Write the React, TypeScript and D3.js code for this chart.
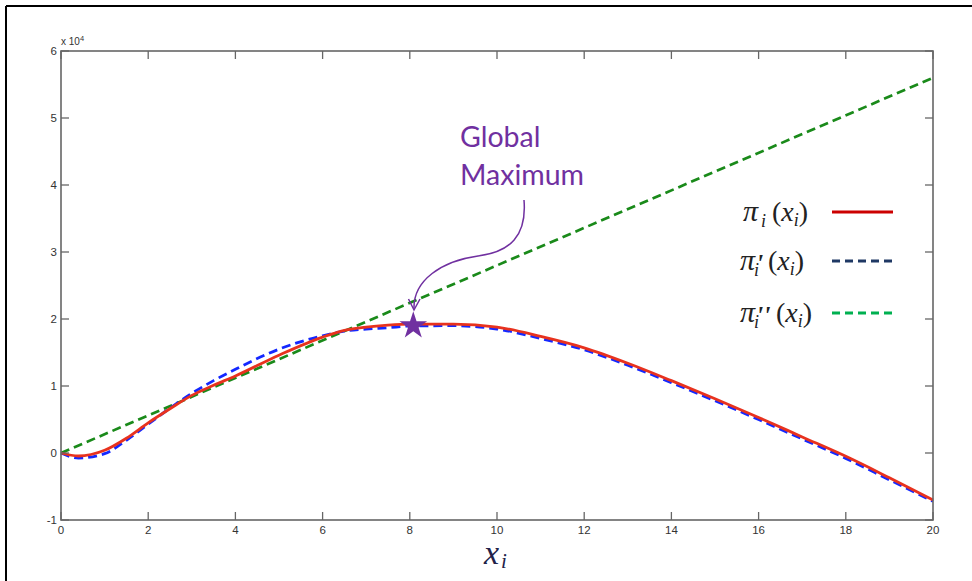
import React from 'react';
import * as d3 from 'd3';

// values in units of 10^4
const xValues = [0, 0.4, 1, 1.5, 2, 2.5, 3, 3.5, 4, 5, 6, 6.5, 7, 7.5, 8, 9, 10, 11, 12, 13, 14, 15, 16, 17, 18, 19, 20];
const piValues = [0, -0.045, 0.04, 0.22, 0.45, 0.66, 0.86, 1.01, 1.15, 1.46, 1.73, 1.83, 1.88, 1.91, 1.925, 1.925, 1.88, 1.74, 1.57, 1.34, 1.08, 0.81, 0.53, 0.24, -0.05, -0.37, -0.7];
const piPrimeValues = [0, -0.075, -0.01, 0.19, 0.43, 0.67, 0.89, 1.08, 1.25, 1.55, 1.75, 1.82, 1.85, 1.87, 1.895, 1.9, 1.85, 1.71, 1.54, 1.31, 1.05, 0.78, 0.5, 0.21, -0.08, -0.4, -0.72];
const piDoubleX = [0, 20];
const piDoubleValues = [0, 5.6];

const xTicks = [0, 2, 4, 6, 8, 10, 12, 14, 16, 18, 20];
const yTicks = [-1, 0, 1, 2, 3, 4, 5, 6];
const globalMax = { x: 8.08, y: 1.9 };

const W = 972;
const H = 581;
const margin = { top: 51, right: 39, bottom: 61, left: 61 };

const App = () => {
  const x = d3.scaleLinear().domain([0, 20]).range([margin.left, W - margin.right]);
  const y = d3.scaleLinear().domain([-1, 6]).range([H - margin.bottom, margin.top]);

  const line = d3.line<[number, number]>()
    .x(d => x(d[0]))
    .y(d => y(d[1]))
    .curve(d3.curveMonotoneX);

  const piPath = line(xValues.map((v, i) => [v, piValues[i]]));
  const piPrimePath = line(xValues.map((v, i) => [v, piPrimeValues[i]]));
  const piDoublePath = line(piDoubleX.map((v, i) => [v, piDoubleValues[i]]));

  const [x0, x1] = x.range();
  const [y0, y1] = y.range();
  const axisColor = '#666';
  const tickLen = 8;
  const sans = '"Liberation Sans", Arial, sans-serif';

  // star marker
  const sx = x(globalMax.x);
  const sy = y(globalMax.y);
  const R = 14.5;
  const r = R * 0.382;
  const starPts = d3.range(10).map(k => {
    const a = -Math.PI / 2 + (k * Math.PI) / 5;
    const rad = k % 2 === 0 ? R : r;
    return `${sx + rad * Math.cos(a)},${sy + rad * Math.sin(a)}`;
  }).join(' ');

  const purple = '#7030a0';
  const mathFont = '"Liberation Serif", serif';

  const legendRows = [
    { y: 221, color: '#cc0000', dash: null, marks: '', piX: 743, parenX: 772 },
    { y: 270, color: '#1f3864', dash: '8,5', marks: "'", piX: 740, parenX: 768 },
    { y: 322, color: '#00b050', dash: '8,5', marks: "''", piX: 740, parenX: 776 },
  ];

  return (
    <svg width={W} height={H} style={{ position: 'absolute', left: 0, top: 0, background: '#fff' }}>
      {/* outer frame */}
      <line x1={6} y1={6} x2={W} y2={6} stroke="#000" strokeWidth={2} />
      <line x1={6} y1={6} x2={6} y2={H} stroke="#000" strokeWidth={2} />

      {/* curves */}
      <path d={piDoublePath ?? ''} fill="none" stroke="#1a8a1a" strokeWidth={2.7} strokeDasharray="9,5" />
      <path d={piPrimePath ?? ''} fill="none" stroke="#1428ff" strokeWidth={2.8} strokeDasharray="9,5" />
      <path d={piPath ?? ''} fill="none" stroke="#e8321e" strokeWidth={2.8} />

      {/* axes box */}
      <rect x={x0} y={y1} width={x1 - x0} height={y0 - y1} fill="none" stroke={axisColor} strokeWidth={1.6} />
      {xTicks.map(t => (
        <g key={'xt' + t}>
          <line x1={x(t)} x2={x(t)} y1={y0} y2={y0 - tickLen} stroke={axisColor} strokeWidth={1.3} />
          <line x1={x(t)} x2={x(t)} y1={y1} y2={y1 + tickLen} stroke={axisColor} strokeWidth={1.3} />
          <text x={x(t)} y={y0 + 14} textAnchor="middle" fontFamily={sans} fontSize={11.5} fill="#333">{t}</text>
        </g>
      ))}
      {yTicks.map(t => (
        <g key={'yt' + t}>
          <line x1={x0} x2={x0 + tickLen} y1={y(t)} y2={y(t)} stroke={axisColor} strokeWidth={1.3} />
          <line x1={x1} x2={x1 - tickLen} y1={y(t)} y2={y(t)} stroke={axisColor} strokeWidth={1.3} />
          <text x={x0 - 4} y={y(t) + 4} textAnchor="end" fontFamily={sans} fontSize={11.5} fill="#333">{t}</text>
        </g>
      ))}
      <text x={x0} y={y1 - 6} fontFamily={sans} fontSize={10} fill="#333">
        x 10<tspan dy={-4} fontSize={7.5}>4</tspan>
      </text>

      {/* x label */}
      <text x={484} y={564} fontFamily={mathFont} fontStyle="italic" fontSize={34} fill="#22224a">x</text>
      <text x={501} y={568} fontFamily={mathFont} fontStyle="italic" fontSize={21} fill="#22224a">i</text>

      {/* legend */}
      {legendRows.map((row, i) => (
        <g key={'lg' + i} fill="#222" fontFamily={mathFont}>
          <text x={row.piX} y={row.y} fontSize={30} fontStyle="italic">π</text>
          {row.marks ? (
            <text x={row.piX + 16} y={row.y + 2} fontSize={26} fontStyle="italic" fontWeight="bold">{row.marks}</text>
          ) : null}
          <text x={row.piX + (row.marks ? 14 : 18)} y={row.y + 6} fontSize={18} fontStyle="italic">i</text>
          <text x={row.parenX} y={row.y} fontSize={28}>
            (<tspan fontStyle="italic">x</tspan><tspan dy={5} fontSize={18} fontStyle="italic">i</tspan><tspan dy={-5}>)</tspan>
          </text>
          <line x1={832} x2={893} y1={row.y - 9} y2={row.y - 9} stroke={row.color} strokeWidth={3}
            strokeDasharray={row.dash ?? undefined} />
        </g>
      ))}

      {/* annotation */}
      <text x={460} y={147} fontFamily="Lato, 'Open Sans', sans-serif" fontSize={28.5} fill={purple}>Global</text>
      <text x={460} y={185} fontFamily="Lato, 'Open Sans', sans-serif" fontSize={28.5} fill={purple}>Maximum</text>
      <path d="M524,200 C527,236 510,252 478,256 C442,261 413,280 414,309" fill="none" stroke={purple} strokeWidth={1.5} />
      <path d="M408.5,299 L414,310 L420,299" fill="none" stroke={purple} strokeWidth={1.5} />
      <polygon points={starPts} fill={purple} />
    </svg>
  );
};

export default App;
